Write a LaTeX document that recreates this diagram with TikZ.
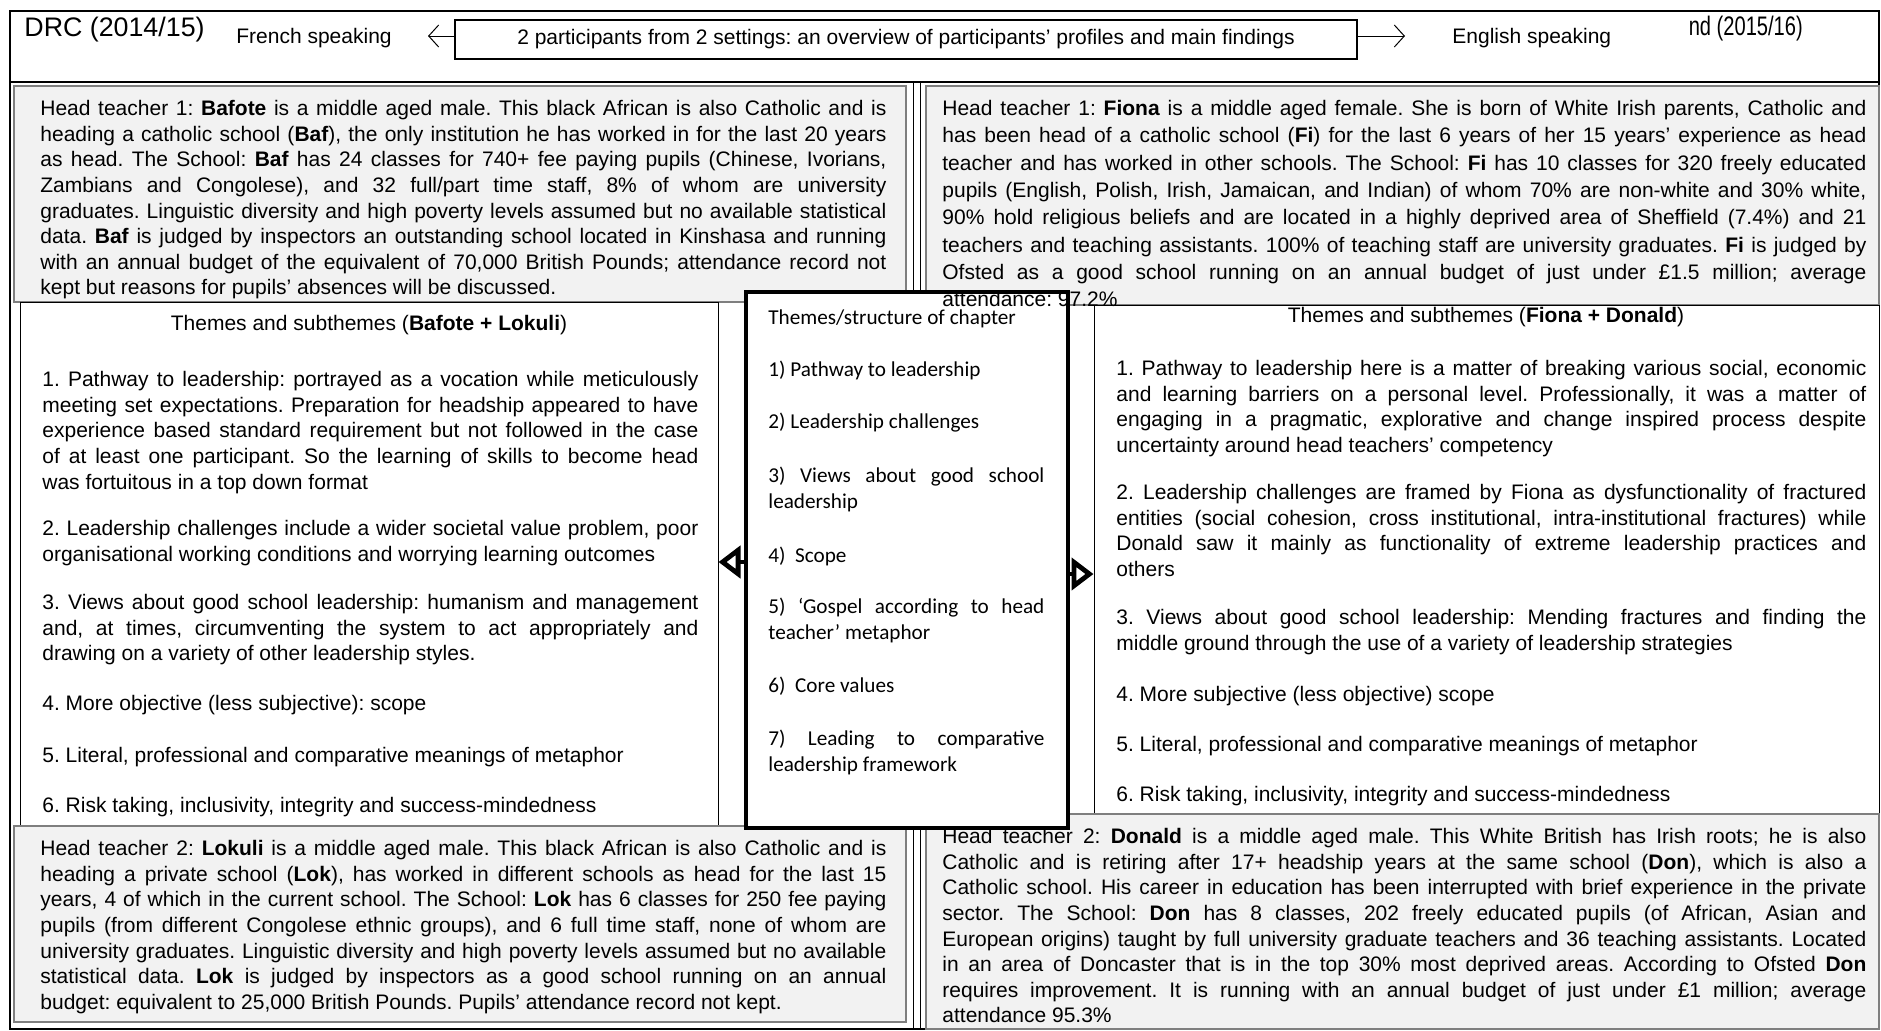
\documentclass[tikz,border=0pt]{standalone}
\usepackage{fontspec}
\setmainfont{Liberation Sans}
\newfontfamily\calfont{Carlito}
\newfontfamily\condfont{Liberation Sans}[FakeStretch=0.75]
\usetikzlibrary{arrows.meta,fit}
\definecolor{boxgray}{HTML}{F2F2F2}
\definecolor{bordgray}{HTML}{7F7F7F}
\newcommand{\brk}{\linebreak}
\hbadness=10000
\tolerance=10000
\frenchspacing
\begin{document}
\begin{tikzpicture}[x=0.5pt,y=-0.5pt,
  graybox/.style={draw=bordgray, line width=0.8pt, fill=boxgray, inner sep=0pt},
  whitebox/.style={draw=black, line width=0.5pt, fill=white, inner sep=0pt},
  centbox/.style={draw=black, line width=1.6pt, fill=white, inner sep=0pt},
  body/.style={anchor=north west, inner sep=0pt, align=justify, font=\fontsize{10.5}{12.8}\selectfont},
  fbody/.style={anchor=north west, inner sep=0pt, align=justify, font=\fontsize{10.5}{13.65}\selectfont},
  cbody/.style={anchor=north west, inner sep=0pt, align=justify, text width=138pt, font=\calfont\fontsize{10.6}{13}\selectfont},
  hdr/.style={anchor=west, inner sep=0pt, font=\fontsize{10.5}{12}\selectfont},
  big/.style={anchor=west, inner sep=0pt, font=\fontsize{13.4}{15}\selectfont},
  fat/.style={line width=2.4pt, -{Triangle[open,length=11pt,width=16pt]}},
  thin/.style={line width=0.5pt, -{Straight Barb[length=5pt,width=11pt]}}
]
\useasboundingbox (0,0) rectangle (1881,1030);
% frame
\draw[line width=1pt] (10,11) rectangle (1879,1029);
\draw[line width=1.3pt] (10,82) -- (1879,82);
\draw[line width=0.5pt] (913,82) -- (913,1029);
\draw[line width=0.5pt] (920,82) -- (920,1029);

% header
\node[big] (drc) at (24,30) {DRC (2014/15)};
\node[hdr] (fr) at (236,38) {French speaking};
\node[fit={(455,20) (1357,59)}, draw=black, line width=0.6pt, inner sep=0pt] (hbox) {};
\node[inner sep=0pt, font=\fontsize{10.5}{12}\selectfont] (htext) at (hbox.center) {2 participants from 2 settings: an overview of participants’ profiles and main findings};
\coordinate (la) at (428,36);
\coordinate (ra) at (1405,36);
\draw[thin] (hbox.west |- la) -- (la);
\draw[thin] (hbox.east |- ra) -- (ra);
\node[hdr] (en) at (1452,38) {English speaking};
\begin{scope}
\clip (1689,14) rectangle (1870,78);
\node[anchor=west, inner sep=0pt, font=\condfont\fontsize{13.4}{15}\selectfont] (eng) at (1637,29) {England (2015/16)};
\end{scope}

% top boxes
\node[graybox, fit={(14,86) (906,302)}] (bafbox) {};
\node[body, text width=423pt] (baftext) at (40,100) {Head teacher 1: \textbf{Bafote} is a middle aged male. This black African is also Catholic and is\brk heading a catholic school (\textbf{Baf}), the only institution he has worked in for the last 20 years\brk as head. The School: \textbf{Baf} has 24 classes for 740+ fee paying pupils (Chinese, Ivorians,\brk Zambians and Congolese), and 32 full/part time staff, 8\% of whom are university\brk graduates. Linguistic diversity and high poverty levels assumed but no available statistical\brk data. \textbf{Baf} is judged by inspectors an outstanding school located in Kinshasa and running\brk with an annual budget of the equivalent of 70,000 British Pounds; attendance record not\brk kept but reasons for pupils’ absences will be discussed.};

\node[graybox, fit={(926,86) (1879,305)}] (fibox) {};

% themes boxes
\node[whitebox, fit={(20,302) (718,826)}] (lthemes) {};
\node[inner sep=0pt, font=\fontsize{10.5}{12}\selectfont] (ltitle) at (369,325) {Themes and subthemes (\textbf{Bafote + Lokuli})};
\node[body, text width=328pt] (l1) at (42,371) {1. Pathway to leadership: portrayed as a vocation while meticulously\brk meeting set expectations. Preparation for headship appeared to have\brk experience based standard requirement but not followed in the case\brk of at least one participant. So the learning of skills to become head\brk was fortuitous in a top down format};
\node[body, text width=328pt] (l2) at (42,520) {2. Leadership challenges include a wider societal value problem, poor\brk organisational working conditions and worrying learning outcomes};
\node[body, text width=328pt] (l3) at (42,594) {3. Views about good school leadership: humanism and management\brk and, at times, circumventing the system to act appropriately and\brk drawing on a variety of other leadership styles.};
\node[body, text width=328pt] (l4) at (42,695) {4. More objective (less subjective): scope};
\node[body, text width=328pt] (l5) at (42,747) {5. Literal, professional and comparative meanings of metaphor};
\node[body, text width=328pt] (l6) at (42,797) {6. Risk taking, inclusivity, integrity and success-mindedness};

\node[whitebox, fit={(1094,305) (1879,816)}] (rthemes) {};
\node[inner sep=0pt, font=\fontsize{10.5}{12}\selectfont] (rtitle) at (1486,317) {Themes and subthemes (\textbf{Fiona + Donald})};
\node[body, text width=375pt] (r1) at (1116,360) {1. Pathway to leadership here is a matter of breaking various social, economic\brk and learning barriers on a personal level. Professionally, it was a matter of\brk engaging in a pragmatic, explorative and change inspired process despite\brk uncertainty around head teachers’ competency};
\node[body, text width=375pt] (r2) at (1116,484) {2. Leadership challenges are framed by Fiona as dysfunctionality of fractured\brk entities (social cohesion, cross institutional, intra-institutional fractures) while\brk Donald saw it mainly as functionality of extreme leadership practices and\brk others};
\node[body, text width=375pt] (r3) at (1116,609) {3. Views about good school leadership: Mending fractures and finding the\brk middle ground through the use of a variety of leadership strategies};
\node[body, text width=375pt] (r4) at (1116,686) {4. More subjective (less objective) scope};
\node[body, text width=375pt] (r5) at (1116,736) {5. Literal, professional and comparative meanings of metaphor};
\node[body, text width=375pt] (r6) at (1116,786) {6. Risk taking, inclusivity, integrity and success-mindedness};

% bottom boxes
\node[graybox, fit={(14,826) (906,1022)}] (lokbox) {};
\node[body, text width=423pt] (loktext) at (40,840) {Head teacher 2: \textbf{Lokuli} is a middle aged male. This black African is also Catholic and is\brk heading a private school (\textbf{Lok}), has worked in different schools as head for the last 15\brk years, 4 of which in the current school. The School: \textbf{Lok} has 6 classes for 250 fee paying\brk pupils (from different Congolese ethnic groups), and 6 full time staff, none of whom are\brk university graduates. Linguistic diversity and high poverty levels assumed but no available\brk statistical data. \textbf{Lok} is judged by inspectors as a good school running on an annual\brk budget: equivalent to 25,000 British Pounds. Pupils’ attendance record not kept.};

\node[graybox, fit={(926,814) (1879,1029)}] (donbox) {};
\node[body, text width=462pt] (dontext) at (942,828) {Head teacher 2: \textbf{Donald} is a middle aged male. This White British has Irish roots; he is also\brk Catholic and is retiring after 17+ headship years at the same school (\textbf{Don}), which is also a\brk Catholic school. His career in education has been interrupted with brief experience in the private\brk sector. The School: \textbf{Don} has 8 classes, 202 freely educated pupils (of African, Asian and\brk European origins) taught by full university graduate teachers and 36 teaching assistants. Located\brk in an area of Doncaster that is in the top 30\% most deprived areas. According to Ofsted \textbf{Don}\brk requires improvement. It is running with an annual budget of just under £1 million; average\brk attendance 95.3\%};

% central box
\node[centbox, fit={(746,292) (1068,828)}] (central) {};
\node[cbody] (c0) at (768,309) {Themes/structure of chapter};
\node[cbody] (c1) at (768,361) {1) Pathway to leadership};
\node[cbody] (c2) at (768,413) {2) Leadership challenges};
\node[cbody] (c3) at (768,467) {3) Views about good school\brk leadership};
\node[cbody] (c4) at (768,547) {4)\ \ Scope};
\node[cbody] (c5) at (768,598) {5) ‘Gospel according to head\brk teacher’ metaphor};
\node[cbody] (c6) at (768,677) {6)\ \ Core values};
\node[cbody] (c7) at (768,730) {7) Leading to comparative\brk leadership framework};

% Fiona text (drawn over the central box edge)
\node[fbody, text width=462pt] (fitext) at (942,100) {Head teacher 1: \textbf{Fiona} is a middle aged female. She is born of White Irish parents, Catholic and\brk has been head of a catholic school (\textbf{Fi}) for the last 6 years of her 15 years’ experience as head\brk teacher and has worked in other schools. The School: \textbf{Fi} has 10 classes for 320 freely educated\brk pupils (English, Polish, Irish, Jamaican, and Indian) of whom 70\% are non-white and 30\% white,\brk 90\% hold religious beliefs and are located in a highly deprived area of Sheffield (7.4\%) and 21\brk teachers and teaching assistants. 100\% of teaching staff are university graduates. \textbf{Fi} is judged by\brk Ofsted as a good school running on an annual budget of just under £1.5 million; average\brk attendance: 97.2\%};

% arrows
\coordinate (ly) at (0,562);
\coordinate (ry) at (0,574);
\draw[fat] (central.west |- ly) -- (lthemes.east |- ly);
\draw[fat] (central.east |- ry) -- (rthemes.west |- ry);
\end{tikzpicture}
\end{document}
